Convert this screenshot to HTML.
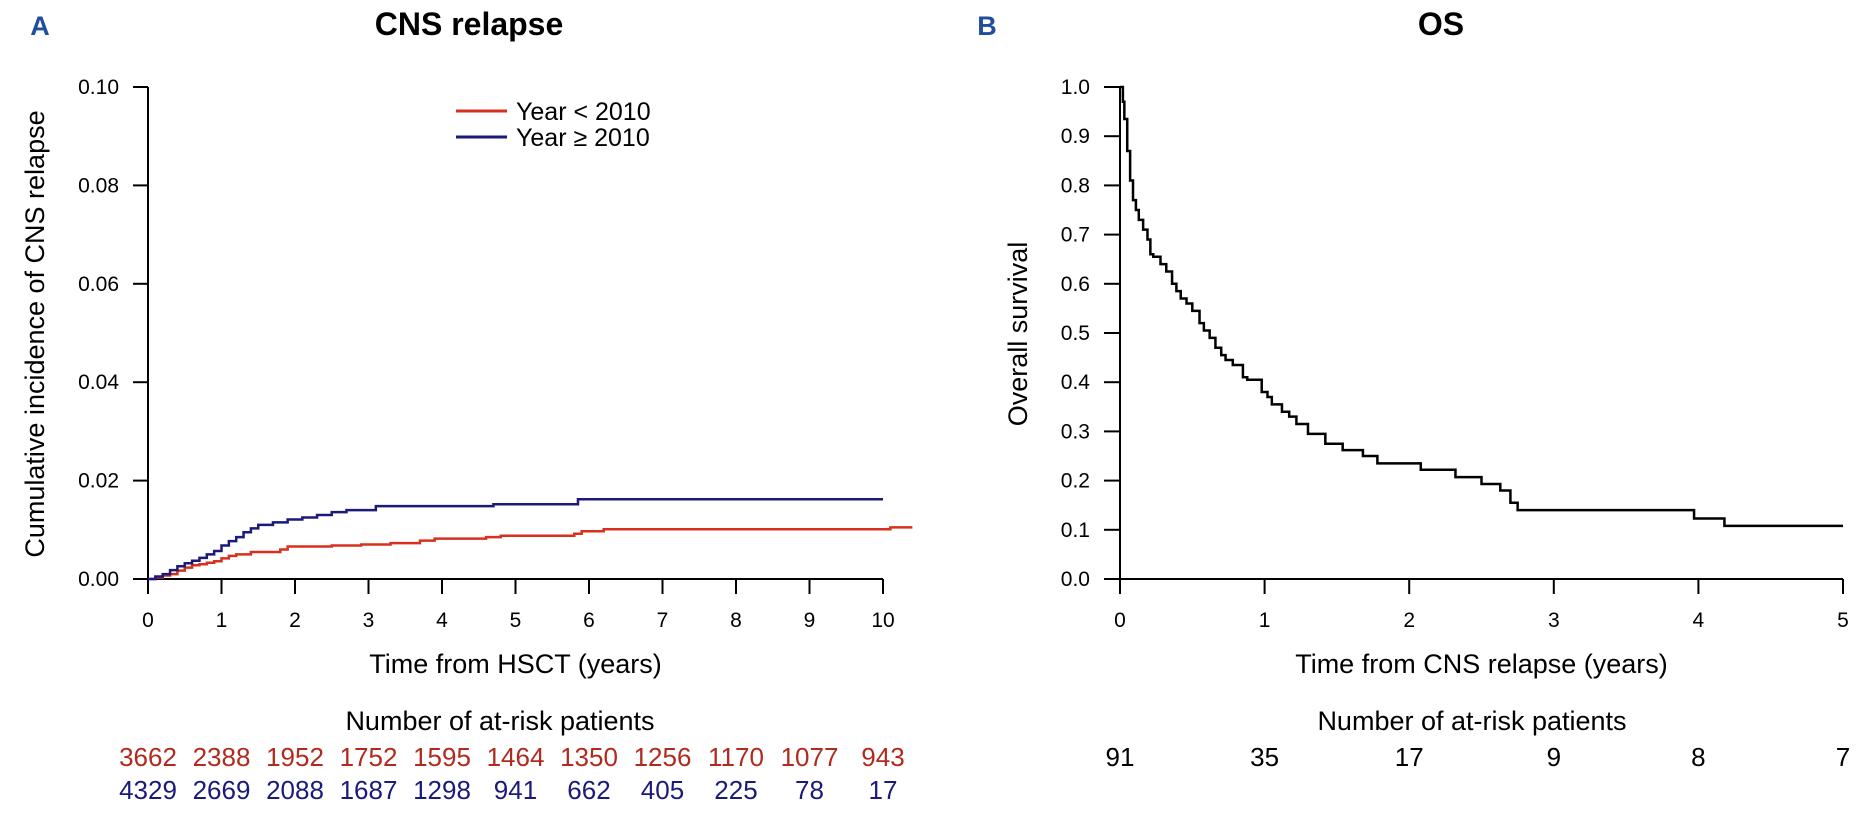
<!DOCTYPE html>
<html><head><meta charset="utf-8"><style>
html,body{margin:0;padding:0;background:#fff;}
svg{display:block;font-family:"Liberation Sans",sans-serif;}
</style></head><body>
<svg id="chart" width="1869" height="813" viewBox="0 0 1869 813" xmlns="http://www.w3.org/2000/svg">
<text x="40" y="35" font-size="27" font-weight="bold" fill="#1f4e9a" text-anchor="middle">A</text>
<text x="469" y="35" font-size="32" font-weight="bold" text-anchor="middle">CNS  relapse</text>
<text x="987" y="35" font-size="27" font-weight="bold" fill="#1f4e9a" text-anchor="middle">B</text>
<text x="1441" y="35" font-size="32" font-weight="bold" text-anchor="middle">OS</text>
<g id="A"></g><g id="B"></g>
</svg>
<script>
// Panel A data
const aTicksX=[0,1,2,3,4,5,6,7,8,9,10];
const aTicksY=[0,0.02,0.04,0.06,0.08,0.10];
const aTickLabelsY=["0.00","0.02","0.04","0.06","0.08","0.10"];
const redT=[0,0.1,0.2,0.3,0.4,0.5,0.6,0.7,0.8,0.9,1.0,1.1,1.2,1.4,1.8,1.9,2.5,2.9,3.3,3.7,3.9,4.6,4.8,5.8,5.9,6.2,10.1,10.4];
const redV=[0,0.0003,0.0007,0.001,0.0017,0.0023,0.0028,0.003,0.0033,0.0036,0.0042,0.0047,0.005,0.0055,0.006,0.0066,0.0068,0.007,0.0073,0.0078,0.0082,0.0085,0.0088,0.0092,0.0097,0.0101,0.0105,0.0105];
const blueT=[0,0.1,0.2,0.3,0.4,0.5,0.6,0.7,0.8,0.9,1.0,1.1,1.2,1.3,1.4,1.5,1.7,1.9,2.1,2.3,2.5,2.7,3.1,4.7,5.85,10.0];
const blueV=[0,0.0005,0.001,0.0018,0.0026,0.0032,0.0037,0.0043,0.005,0.0057,0.0068,0.0077,0.0085,0.0095,0.0103,0.011,0.0115,0.0121,0.0125,0.013,0.0136,0.014,0.0148,0.0152,0.0162,0.0162];
const redRisk=[3662,2388,1952,1752,1595,1464,1350,1256,1170,1077,943];
const blueRisk=[4329,2669,2088,1687,1298,941,662,405,225,78,17];
// Panel B data
const bTicksX=[0,1,2,3,4,5];
const bTicksY=[0,0.1,0.2,0.3,0.4,0.5,0.6,0.7,0.8,0.9,1.0];
const bTickLabelsY=["0.0","0.1","0.2","0.3","0.4","0.5","0.6","0.7","0.8","0.9","1.0"];
const osT=[0,0.02,0.03,0.05,0.07,0.09,0.11,0.13,0.16,0.19,0.21,0.23,0.28,0.32,0.36,0.39,0.42,0.46,0.5,0.55,0.58,0.62,0.66,0.7,0.73,0.78,0.85,0.88,0.98,1.02,1.05,1.12,1.17,1.22,1.3,1.42,1.54,1.68,1.78,2.08,2.32,2.5,2.63,2.7,2.75,3.97,4.18,5.0];
const osV=[1.0,0.97,0.935,0.87,0.81,0.77,0.75,0.73,0.71,0.69,0.66,0.655,0.64,0.625,0.60,0.585,0.57,0.56,0.545,0.52,0.505,0.49,0.47,0.455,0.445,0.435,0.41,0.405,0.38,0.37,0.355,0.34,0.33,0.315,0.295,0.275,0.262,0.25,0.235,0.222,0.207,0.193,0.18,0.155,0.14,0.123,0.108,0.108];
const osRisk=[91,35,17,9,8,7];

const NS="http://www.w3.org/2000/svg";
function mk(parent,tag,attrs,text){const e=document.createElementNS(NS,tag);for(const k in attrs)e.setAttribute(k,attrs[k]);if(text!==undefined)e.textContent=text;parent.appendChild(e);return e;}
function stepPath(T,V,sx,sy){let d="M"+sx(T[0])+","+sy(V[0]);for(let i=1;i<T.length;i++){d+=" H"+sx(T[i])+" V"+sy(V[i]);}return d;}

// Panel A
const gA=document.getElementById('A');
const ax=t=>148+t*73.5, ay=v=>579-v*4920;
let l=mk(gA,'line',{x1:ax(0),y1:ay(0),x2:ax(10),y2:ay(0),stroke:'#000','stroke-width':2});

l=mk(gA,'line',{x1:148,y1:ay(0),x2:148,y2:ay(0.1),stroke:'#000','stroke-width':2});

aTicksX.forEach(t=>{mk(gA,'line',{x1:ax(t),y1:579,x2:ax(t),y2:594,stroke:'#000','stroke-width':2});
 const tx=mk(gA,'text',{x:ax(t),y:627,'font-size':21,'text-anchor':'middle'},t);
 });
aTicksY.forEach((v,i)=>{mk(gA,'line',{x1:133,y1:ay(v),x2:148,y2:ay(v),stroke:'#000','stroke-width':2});
 const tx=mk(gA,'text',{x:119,y:ay(v)+7,'font-size':21,'text-anchor':'end'},aTickLabelsY[i]);
 });
let p=mk(gA,'path',{d:stepPath(redT,redV,ax,ay),fill:'none',stroke:'#d7301f','stroke-width':2.5});

p=mk(gA,'path',{d:stepPath(blueT,blueV,ax,ay),fill:'none',stroke:'#1a1a7a','stroke-width':2.5});

let t=mk(gA,'text',{x:44,y:334,'font-size':27,'text-anchor':'middle',transform:'rotate(-90 44 334)'},'Cumulative incidence of CNS  relapse');

t=mk(gA,'text',{x:ax(5),y:673,'font-size':27,'text-anchor':'middle'},'Time from HSCT (years)');

t=mk(gA,'text',{x:500,y:730,'font-size':27,'text-anchor':'middle'},'Number of at-risk patients');

redRisk.forEach((n,i)=>{const e=mk(gA,'text',{x:ax(aTicksX[i]),y:766,'font-size':26,'text-anchor':'middle',fill:'#b22a1e'},n);
 });
blueRisk.forEach((n,i)=>{const e=mk(gA,'text',{x:ax(aTicksX[i]),y:799,'font-size':26,'text-anchor':'middle',fill:'#1a1a7a'},n);
 });
l=mk(gA,'line',{x1:456,y1:111,x2:507,y2:111,stroke:'#d7301f','stroke-width':3});

t=mk(gA,'text',{x:516,y:120,'font-size':25},'Year < 2010');

l=mk(gA,'line',{x1:456,y1:137,x2:507,y2:137,stroke:'#1a1a7a','stroke-width':3});

t=mk(gA,'text',{x:516,y:146,'font-size':25},'Year ≥ 2010');


// Panel B
const gB=document.getElementById('B');
const bx=t=>1120+t*144.6, by=v=>579-v*492;
l=mk(gB,'line',{x1:1104,y1:579,x2:bx(5),y2:579,stroke:'#000','stroke-width':2});

l=mk(gB,'line',{x1:1120,y1:579,x2:1120,y2:by(1),stroke:'#000','stroke-width':2});

bTicksX.forEach(v=>{mk(gB,'line',{x1:bx(v),y1:579,x2:bx(v),y2:594,stroke:'#000','stroke-width':2});
 const tx=mk(gB,'text',{x:bx(v),y:627,'font-size':21,'text-anchor':'middle'},v);
 });
bTicksY.forEach((v,i)=>{mk(gB,'line',{x1:1104,y1:by(v),x2:1120,y2:by(v),stroke:'#000','stroke-width':2});
 const tx=mk(gB,'text',{x:1090,y:by(v)+7,'font-size':21,'text-anchor':'end'},bTickLabelsY[i]);
 });
p=mk(gB,'path',{d:stepPath(osT,osV,bx,by),fill:'none',stroke:'#000','stroke-width':2.5});

t=mk(gB,'text',{x:1027,y:334,'font-size':27,'text-anchor':'middle',transform:'rotate(-90 1027 334)'},'Overall  survival');

t=mk(gB,'text',{x:bx(2.5),y:673,'font-size':27,'text-anchor':'middle'},'Time from CNS relapse (years)');

t=mk(gB,'text',{x:1472,y:730,'font-size':27,'text-anchor':'middle'},'Number of at-risk patients');

osRisk.forEach((n,i)=>{const e=mk(gB,'text',{x:bx(bTicksX[i]),y:766,'font-size':26,'text-anchor':'middle'},n);
 });
</script>
</body></html>
